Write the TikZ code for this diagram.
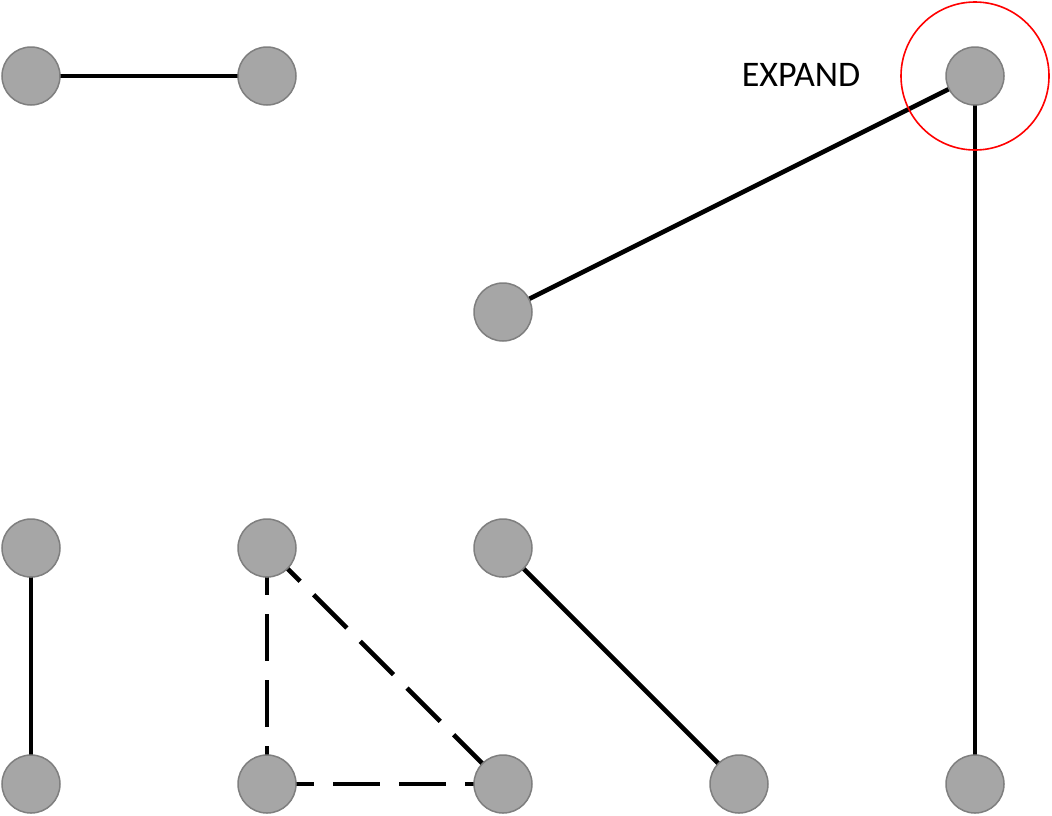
\documentclass[tikz,border=0pt]{standalone}
\usepackage{fontspec}
\setmainfont{Carlito}
\usetikzlibrary{backgrounds}
\definecolor{nodefill}{HTML}{A6A6A6}
\definecolor{nodeline}{HTML}{7F7F7F}
\begin{document}
\begin{tikzpicture}[x=1pt,y=-1pt,
  vtx/.style={circle,fill=nodefill,draw=nodeline,line width=1.5pt,minimum size=58pt,inner sep=0pt},
  edge/.style={line width=4.6pt,black},
  dedge/.style={edge,dash pattern=on 47pt off 19pt},
  hl/.style={circle,draw=red,line width=1.6pt,minimum size=148pt,inner sep=0pt},
  lbl/.style={font=\fontsize{36pt}{40pt}\selectfont,inner sep=0pt}]
\useasboundingbox (0,0) rectangle (1052,815);
\node[vtx] (a1) at (31,76) {};
\node[vtx] (a2) at (267,76) {};
\node[vtx] (t)  at (975,76) {};
\node[hl]  (ring) at (975,76) {};
\node[vtx] (m)  at (503,312) {};
\node[vtx] (b1) at (31,548) {};
\node[vtx] (b2) at (267,548) {};
\node[vtx] (b3) at (503,548) {};
\node[vtx] (c1) at (31,784) {};
\node[vtx] (c2) at (267,784) {};
\node[vtx] (c3) at (503,784) {};
\node[vtx] (c4) at (739,784) {};
\node[vtx] (c5) at (975,784) {};
\node[lbl] (exp) at (801,75) {EXPAND};
\begin{pgfonlayer}{background}
\draw[edge] (a1.center) -- (a2.center);
\draw[edge] (m.center) -- (t.center);
\draw[edge] (t.center) -- (c5.center);
\draw[edge] (b1.center) -- (c1.center);
\draw[edge] (b3.center) -- (c4.center);
\draw[dedge] (b2.center) -- (c2.center);
\draw[dedge] (b2.center) -- (c3.center);
\draw[dedge] (c2.center) -- (c3.center);
\end{pgfonlayer}
\end{tikzpicture}
\end{document}
